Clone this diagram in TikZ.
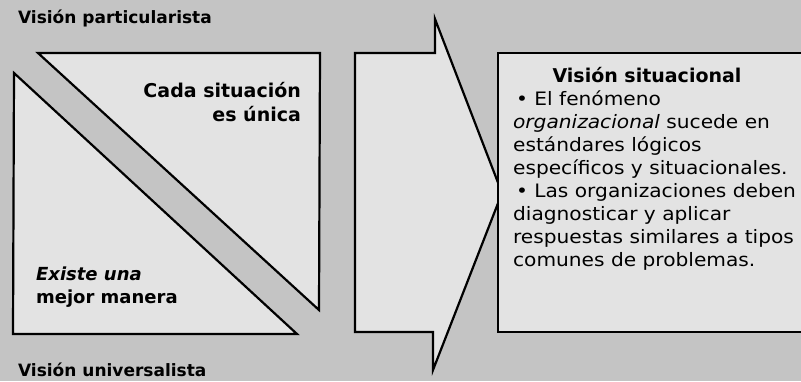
\documentclass[tikz,border=0pt]{standalone}
\usepackage{fontspec}
\setmainfont{DejaVu Sans}
\newfontfamily\bodyfont[FakeStretch=1.09]{DejaVu Sans}
\definecolor{bgc}{gray}{0.77}
\definecolor{inc}{gray}{0.89}
\begin{document}
\begin{tikzpicture}[x=1pt,y=-1pt,line width=2.2pt,line join=miter,
  head/.style={inner sep=0pt,font=\fontsize{18}{20}\selectfont\bfseries},
  body/.style={inner sep=0pt,anchor=base west,font=\bodyfont\fontsize{18.5}{21}\selectfont}]
\fill[bgc] (0,0) rectangle (801,381);
\useasboundingbox (0,0) rectangle (801,381);
% triangles
\filldraw[fill=inc] (38,53) -- (320,53) -- (319,310) -- cycle;
\filldraw[fill=inc] (14,73) -- (297,334) -- (13,334) -- cycle;
% arrow
\filldraw[fill=inc] (355,53) -- (435,53) -- (435,19) -- (502,193) -- (433,370) -- (433,332) -- (355,332) -- cycle;
% right box
\fill[inc] (498,53) rectangle (801,332);
\draw (805,53) -- (498,53) -- (498,332) -- (805,332);
% left texts
\node[head,anchor=base west,font=\fontsize{17}{20}\selectfont\bfseries] (vp) at (17,23) {Visión particularista};
\node[head,anchor=base east,font=\fontsize{19}{20}\selectfont\bfseries] (cs) at (302,97) {Cada situación};
\node[head,anchor=base east,font=\fontsize{19}{20}\selectfont\bfseries] (eu) at (302,121) {es única};
\node[head,anchor=base west,font=\fontsize{18}{20}\selectfont\bfseries\itshape] (ex) at (35,280) {Existe una};
\node[head,anchor=base west,font=\fontsize{18}{20}\selectfont\bfseries] (mm) at (35,303) {mejor manera};
\node[head,anchor=base west,font=\fontsize{17}{20}\selectfont\bfseries] (vu) at (17,376) {Visión universalista};
% right box texts
\node[head,anchor=base,font=\fontsize{19}{20}\selectfont\bfseries] (vs) at (647,82) {Visión situacional};
\node[body] (l1) at (515,105) {• El fenómeno};
\node[body] (l2) at (512,128) {\itshape organizacional\upshape{} sucede en};
\node[body] (l3) at (512,151) {estándares lógicos};
\node[body] (l4) at (512,174) {específicos y situacionales.};
\node[body] (l5) at (515,197) {• Las organizaciones deben};
\node[body] (l6) at (512,220) {diagnosticar y aplicar};
\node[body] (l7) at (512,243) {respuestas similares a tipos};
\node[body] (l8) at (512,266) {comunes de problemas.};
\end{tikzpicture}
\end{document}
